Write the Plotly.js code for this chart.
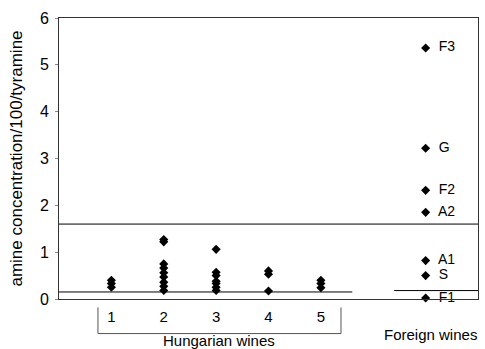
<!DOCTYPE html>
<html>
<head>
<meta charset="utf-8">
<script src="https://cdn.plot.ly/plotly-3.0.1.min.js"></script>
<style>html,body{margin:0;padding:0;background:#fff;}#chart{width:485px;height:349px;}</style>
</head>
<body>
<div id="chart"></div>
<script>
// Hungarian wine groups (x position = group number)
var hungarianGroups = [1, 2, 3, 4, 5];
var group1 = [0.40, 0.33, 0.25];
var group2 = [1.27, 1.22, 0.75, 0.66, 0.56, 0.47, 0.36, 0.27, 0.18];
var group3 = [1.06, 0.57, 0.50, 0.38, 0.33, 0.25, 0.18];
var group4 = [0.60, 0.53, 0.17];
var group5 = [0.40, 0.33, 0.24];
var hungarianValues = [group1, group2, group3, group4, group5];

// Foreign wines
var foreignX = 7;
var foreignNames = ['F3', 'G', 'F2', 'A2', 'A1', 'S', 'F1'];
var foreignValues = [5.36, 3.22, 2.32, 1.85, 0.82, 0.50, 0.02];

// Reference levels
var upperLimit = 1.6;
var lowerLimitHU = 0.15;
var lowerLimitForeign = 0.18;

var hx = [], hy = [];
hungarianGroups.forEach(function (g, i) {
  hungarianValues[i].forEach(function (v) { hx.push(g); hy.push(v); });
});
var fx = foreignValues.map(function () { return foreignX; });

var font = 'Liberation Sans, Arial, sans-serif';
var marker = {symbol: 'diamond', size: 7, color: '#000'};

var traces = [
  {x: hx, y: hy, type: 'scatter', mode: 'markers', marker: marker, cliponaxis: false, hoverinfo: 'y'},
  {x: fx, y: foreignValues, type: 'scatter', mode: 'markers+text', marker: marker,
   text: foreignNames.map(function (t) { return '  ' + t; }), textposition: 'middle right',
   textfont: {family: font, size: 14, color: '#000'}, cliponaxis: false, hoverinfo: 'y'}
];

var layout = {
  width: 485, height: 349,
  margin: {l: 59, r: 7, t: 18, b: 50},
  paper_bgcolor: '#fff', plot_bgcolor: '#fff',
  showlegend: false,
  font: {family: font, size: 15, color: '#000'},
  xaxis: {
    range: [0, 8], showgrid: false, zeroline: false,
    showline: true, mirror: true, linecolor: '#333', linewidth: 1,
    tickmode: 'array', tickvals: hungarianGroups, ticktext: hungarianGroups.map(String),
    ticks: '', tickfont: {family: font, size: 15, color: '#000'}, ticklabelstandoff: 4
  },
  yaxis: {
    range: [0, 6], dtick: 1, showgrid: false, zeroline: false,
    showline: true, mirror: true, linecolor: '#333', linewidth: 1,
    ticks: 'outside', ticklen: 3, tickcolor: '#888', ticklabelstandoff: 3,
    tickfont: {family: font, size: 16, color: '#000'},
    title: {text: 'amine concentration/100/tyramine', font: {family: font, size: 17, color: '#000'}, standoff: 12}
  },
  shapes: [
    {type: 'line', xref: 'x', yref: 'y', x0: 0, x1: 8, y0: upperLimit, y1: upperLimit, line: {color: '#000', width: 1}},
    {type: 'line', xref: 'x', yref: 'y', x0: 0, x1: 5.6, y0: lowerLimitHU, y1: lowerLimitHU, line: {color: '#000', width: 1}},
    {type: 'line', xref: 'x', yref: 'y', x0: 6.4, x1: 8, y0: lowerLimitForeign, y1: lowerLimitForeign, line: {color: '#000', width: 1}},
    // bracket under Hungarian groups
    {type: 'path', xref: 'paper', yref: 'paper',
     path: 'M 0.093 -0.030 L 0.093 -0.123 L 0.673 -0.123 L 0.673 -0.030',
     line: {color: '#555', width: 1}}
  ],
  annotations: [
    {text: 'Hungarian wines', xref: 'paper', yref: 'paper', x: 0.383, y: -0.146,
     xanchor: 'center', yanchor: 'middle', showarrow: false, font: {family: font, size: 15, color: '#000'}},
    {text: 'Foreign wines', xref: 'paper', yref: 'paper', x: 0.887, y: -0.09,
     xanchor: 'center', yanchor: 'top', showarrow: false, font: {family: font, size: 15, color: '#000'}}
  ]
};

Plotly.newPlot('chart', traces, layout, {displayModeBar: false, staticPlot: true});
</script>
</body>
</html>
